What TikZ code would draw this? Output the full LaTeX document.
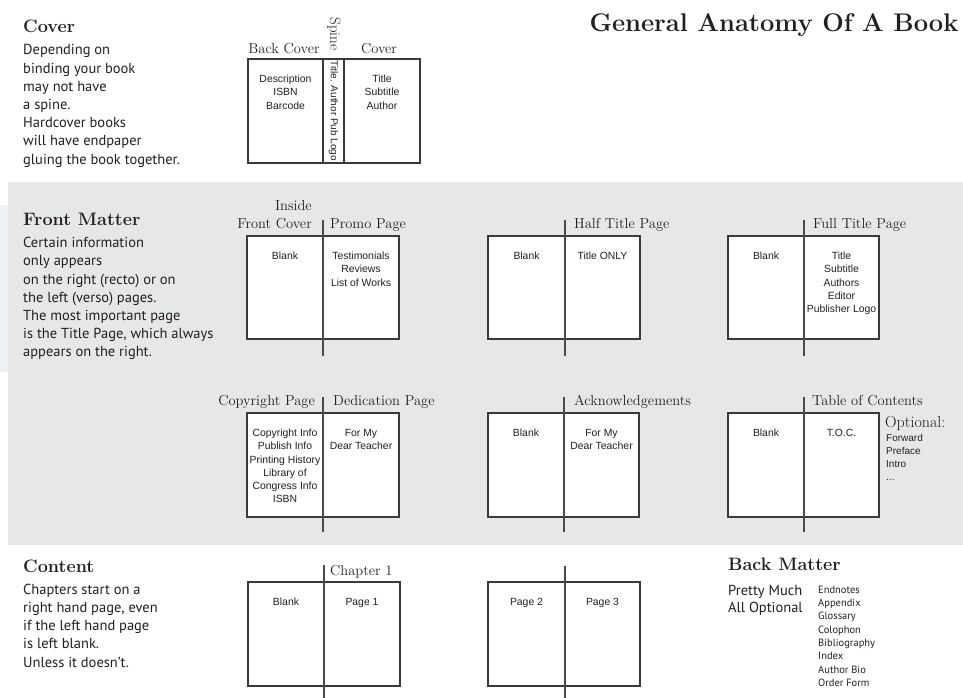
\documentclass[tikz,border=0pt]{standalone}
\usepackage{fontspec}
\usetikzlibrary{calc}
\newfontfamily\bodyfont{PT Sans}
\newfontfamily\smallfont{Liberation Sans}
\definecolor{bandc}{HTML}{E6E7E8}
\definecolor{stripec}{HTML}{EDF2F6}
\definecolor{boxc}{HTML}{3A3A3A}
\definecolor{spinec}{HTML}{4A4A4A}
\definecolor{txt}{HTML}{231F20}
\newcommand\centerlines[1]{\begin{tabular}[t]{@{}c@{}}#1\end{tabular}}
\newcommand\leftlines[1]{\begin{tabular}[t]{@{}l@{}}#1\end{tabular}}
\tikzset{
  page/.style={draw=boxc, line width=1.1pt, fill=white, inner sep=0pt},
  spineline/.style={draw=spinec, line width=1.4pt},
  inner/.style={font=\smallfont\fontsize{10.4}{13.3}\selectfont, anchor=base, inner sep=0pt, text=txt},
  lab/.style={font=\fontsize{14.5}{17}\selectfont, inner sep=0pt, text=txt},
  head/.style={font=\bfseries\fontsize{18}{20}\selectfont, anchor=base west, inner sep=0pt, text=txt},
  body/.style={font=\bodyfont\fontsize{14.5}{18.2}\selectfont, anchor=base west, inner sep=0pt, text=txt},
  listtext/.style={anchor=base west, inner sep=0pt, text=txt},
}
% #1 name, #2 left x, #3 spine x, #4 right x, #5 top y, #6 bottom y
\newcommand\bookspread[6]{%
  \node[page, minimum width={#3-#2}, minimum height={#6-#5}] (#1l) at ({(#2+#3)/2},{(#5+#6)/2}) {};
  \node[page, minimum width={#4-#3}, minimum height={#6-#5}] (#1r) at ({(#3+#4)/2},{(#5+#6)/2}) {};
}
\begin{document}
\begin{tikzpicture}[x=1pt,y=-1pt]
\useasboundingbox (0,0) rectangle (963,698);
\fill[white] (0,0) rectangle (963,698);
\fill[stripec] (0,205) rectangle (8,372);
\fill[bandc] (8,182) rectangle (963,545);

% ---------- title
\node[anchor=base, inner sep=0pt, text=txt, font=\bfseries\fontsize{25.5}{27}\selectfont] (title) at (774,31.5) {General Anatomy Of A Book};

% ---------- Cover section
\node[head] (hcover) at (23,33) {Cover};
\node[body] (tcover) at (23,55) {\leftlines{Depending on\\binding your book\\may not have\\a spine.\\Hardcover books\\will have endpaper\\gluing the book together.}};

\node[page, minimum width=75, minimum height=104] (back) at (285.5,111) {};
\node[page, minimum width=21, minimum height=104] (spine) at (333.5,111) {};
\node[page, minimum width=76, minimum height=104] (front) at (382,111) {};
\node[lab, anchor=base] (lback) at (284,53.3) {Back Cover};
\node[lab, anchor=base] (lfront) at (379,53.3) {Cover};
\node[lab, rotate=-90, font=\fontsize{15}{17}\selectfont] (lspine) at (334,34) {Spine};
\node[inner] (iback) at ($(back.north)+(0,24)$) {\centerlines{Description\\ISBN\\Barcode}};
\node[inner] (ifront) at ($(front.north)+(0,24)$) {\centerlines{Title\\Subtitle\\Author}};
\node[rotate=-90, inner sep=0pt, text=txt, font=\smallfont\fontsize{10}{10}\selectfont] (ispine) at (spine.center) {Title. Author Pub Logo};

% ---------- Front matter section
\node[head] (hfront) at (23,225.7) {Front Matter};
\node[body] (tfront) at (23,247.7) {\leftlines{Certain information\\only appears\\on the right (recto) or on\\the left (verso) pages.\\The most important page\\is the Title Page, which always\\appears on the right.}};

% row 1
\bookspread{A}{247}{323}{399}{236}{339}
\bookspread{B}{488}{565}{640}{236}{339}
\bookspread{C}{728}{804}{879}{236}{339}
\coordinate (At) at (323,220); \coordinate (Ab) at (323,356);
\coordinate (Bt) at (565,220); \coordinate (Bb) at (565,356);
\coordinate (Ct) at (804,220); \coordinate (Cb) at (804,356);
\draw[spineline] (At) -- (Ab);
\draw[spineline] (Bt) -- (Bb);
\draw[spineline] (Ct) -- (Cb);

\node[lab, anchor=base east] (lAi) at (312,210.5) {Inside};
\node[lab, anchor=base east] (lAl) at (312,228) {Front Cover};
\node[lab, anchor=base west] (lAr) at (330,228) {Promo Page};
\node[lab, anchor=base west] (lBr) at (574,228) {Half Title Page};
\node[lab, anchor=base west] (lCr) at (813,228) {Full Title Page};
\node[inner] (iAl) at ($(Al.north)+(0,24)$) {Blank};
\node[inner] (iAr) at ($(Ar.north)+(0,24)$) {\centerlines{Testimonials\\Reviews\\List of Works}};
\node[inner] (iBl) at ($(Bl.north)+(0,24)$) {Blank};
\node[inner] (iBr) at ($(Br.north)+(0,24)$) {Title ONLY};
\node[inner] (iCl) at ($(Cl.north)+(0,24)$) {Blank};
\node[inner] (iCr) at ($(Cr.north)+(0,24)$) {\centerlines{Title\\Subtitle\\Authors\\Editor\\Publisher Logo}};

% row 2
\bookspread{D}{247}{323}{399}{413}{517}
\bookspread{E}{488}{564}{639}{413}{517}
\bookspread{F}{728}{804}{879}{413}{517}
\coordinate (Dt) at (323,397); \coordinate (Db) at (323,532);
\coordinate (Et) at (564,397); \coordinate (Eb) at (564,532);
\coordinate (Ft) at (804,397); \coordinate (Fb) at (804,532);
\draw[spineline] (Dt) -- (Db);
\draw[spineline] (Et) -- (Eb);
\draw[spineline] (Ft) -- (Fb);

\node[lab, anchor=base east] (lDl) at (315,405.7) {Copyright Page};
\node[lab, anchor=base west] (lDr) at (333,405.7) {Dedication Page};
\node[lab, anchor=base west] (lEr) at (574,405.7) {Acknowledgements};
\node[lab, anchor=base west] (lFr) at (812,405.7) {Table of Contents};
\node[inner] (iDl) at ($(Dl.north)+(0,24)$) {\centerlines{Copyright Info\\Publish Info\\Printing History\\Library of\\Congress Info\\ISBN}};
\node[inner] (iDr) at ($(Dr.north)+(0,24)$) {\centerlines{For My\\Dear Teacher}};
\node[inner] (iEl) at ($(El.north)+(0,24)$) {Blank};
\node[inner] (iEr) at ($(Er.north)+(0,24)$) {\centerlines{For My\\Dear Teacher}};
\node[inner] (iFl) at ($(Fl.north)+(0,24)$) {Blank};
\node[inner] (iFr) at ($(Fr.north)+(0,24)$) {T.O.C.};
\node[lab, anchor=base west, font=\fontsize{16}{17}\selectfont] (lopt) at (885,427) {Optional:};
\node[listtext, font=\smallfont\fontsize{10}{13.3}\selectfont] (topt) at (886,441) {\leftlines{Forward\\Preface\\Intro\\...}};

% ---------- Content section
\node[head] (hcontent) at (23,572) {Content};
\node[body] (tcontent) at (23,594.3) {\leftlines{Chapters start on a\\right hand page, even\\if the left hand page\\is left blank.\\Unless it doesn’t.}};

\bookspread{G}{248}{324}{400}{582}{686}
\bookspread{H}{488}{565}{640}{582}{686}
\coordinate (Gt) at (324,565); \coordinate (Gb) at (324,698);
\coordinate (Ht) at (565,566); \coordinate (Hb) at (565,698);
\draw[spineline] (Gt) -- (Gb);
\draw[spineline] (Ht) -- (Hb);
\node[lab, anchor=base west] (lGr) at (330,575) {Chapter 1};
\node[inner] (iGl) at ($(Gl.north)+(0,24.5)$) {Blank};
\node[inner] (iGr) at ($(Gr.north)+(0,24.5)$) {Page 1};
\node[inner] (iHl) at ($(Hl.north)+(0,24.5)$) {Page 2};
\node[inner] (iHr) at ($(Hr.north)+(0,24.5)$) {Page 3};

% ---------- Back matter
\node[head] (hback) at (728,570) {Back Matter};
\node[listtext, font=\bodyfont\fontsize{14.5}{17}\selectfont] (tback) at (728,595) {\leftlines{Pretty Much\\All Optional}};
\node[listtext, font=\bodyfont\fontsize{10.5}{13.33}\selectfont] (lback2) at (818,593.3) {\leftlines{Endnotes\\Appendix\\Glossary\\Colophon\\Bibliography\\Index\\Author Bio\\Order Form}};
\end{tikzpicture}
\end{document}
